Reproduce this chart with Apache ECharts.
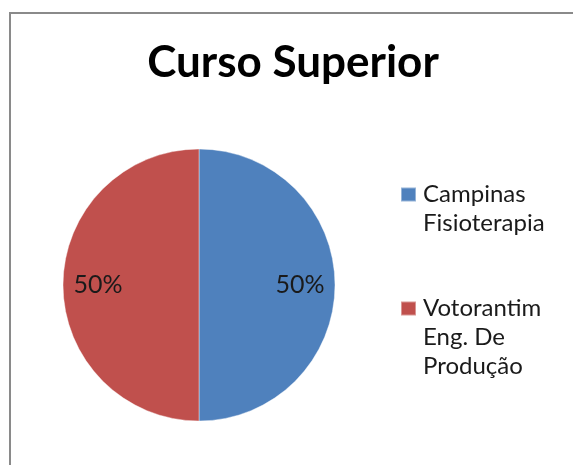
<!DOCTYPE html>
<html>
<head>
<meta charset="utf-8">
<script src="https://cdn.jsdelivr.net/npm/echarts@6/dist/echarts.min.js"></script>
<style>
  html, body { margin: 0; padding: 0; background: #fff; }
  #chart { width: 573px; height: 465px; }
</style>
</head>
<body>
<div id="chart"></div>
<script>
// dados do gráfico
const categorias = ['Campinas Fisioterapia', 'Votorantim Eng. De Produção'];
const linhasLegenda = [['Campinas', 'Fisioterapia'], ['Votorantim', 'Eng. De', 'Produção']];
const valores = [50, 50];
const cores = ['#4F81BD', '#C0504D'];

const myChart = echarts.init(document.getElementById('chart'));

// rótulo um pouco afastado do centro, como no Excel
const deslocamento = [[30, 0], [-30, 0]];

const dados = categorias.map((nome, i) => ({
  name: nome,
  value: valores[i],
  itemStyle: { color: cores[i] },
  label: { offset: deslocamento[i] }
}));

const option = {
  animation: false,
  title: {
    text: 'Curso Superior',
    left: 288,
    textAlign: 'center',
    top: 36,
    textStyle: { fontFamily: 'Lato', fontWeight: 'bold', fontSize: 44, color: '#000' }
  },
  legend: {
    orient: 'vertical',
    left: 400,
    top: 151,
    padding: 0,
    itemWidth: 15,
    itemHeight: 14,
    itemGap: -2,
    icon: 'rect',
    data: categorias,
    formatter: function (name) {
      const i = categorias.indexOf(name);
      const linhas = linhasLegenda[i];
      // linhas vazias em cima para alinhar o quadrado com a primeira linha
      return new Array(linhas.length - 1).fill('').concat(linhas).join('\n');
    },
    textStyle: { fontFamily: 'Lato', fontSize: 24, color: '#1a1a1a', lineHeight: 29, padding: [0, 0, 0, 2] }
  },
  graphic: [{
    type: 'rect',
    shape: { x: 10, y: 13, width: 700, height: 600 },
    style: { fill: 'none', stroke: '#8a8a8a', lineWidth: 2 },
    silent: true
  }],
  series: [{
    type: 'pie',
    center: [199, 285],
    radius: 136,
    startAngle: 90,
    clockwise: true,
    data: dados,
    itemStyle: { borderColor: 'rgba(255,255,255,0.4)', borderWidth: 1 },
    label: {
      show: true,
      position: 'inside',
      formatter: '{d}%',
      fontFamily: 'Lato',
      fontSize: 25,
      color: '#1a1a1a'
    },
    labelLine: { show: false },
    emphasis: { disabled: true }
  }]
};

myChart.setOption(option);
window.addEventListener('resize', function () {
  myChart.resize();
});
</script>
</body>
</html>
